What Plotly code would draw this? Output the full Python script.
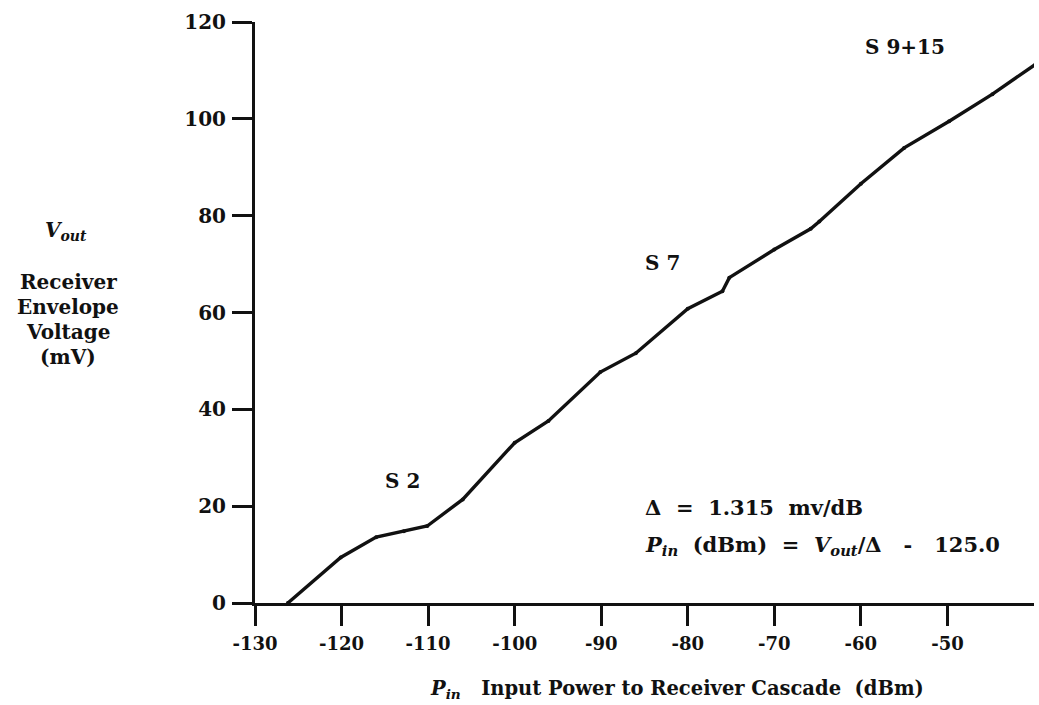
import plotly.graph_objects as go

# Data
p_in_dbm = [-126.2, -120.1, -116.0, -112.8, -110.1, -106.0, -100.0, -96.1, -90.1,
            -86.0, -80.0, -76.0, -75.2, -70.0, -65.8, -64.8, -60.0, -55.0,
            -49.8, -44.8, -39.8]
v_out_mv = [0.0, 9.4, 13.6, 14.8, 15.9, 21.4, 33.1, 37.6, 47.7,
            51.6, 60.8, 64.4, 67.2, 73.0, 77.3, 78.8, 86.6, 94.0,
            99.5, 105.1, 111.3]
x_ticks = [-130, -120, -110, -100, -90, -80, -70, -60, -50]
y_ticks = [0, 20, 40, 60, 80, 100, 120]
region_labels = ["S 2", "S 7", "S 9+15"]

W, H = 1039, 705
L, R, T, B = 255, 5, 22, 102
PW, PH = W - L - R, H - T - B

def px(x):
    return (x - L) / PW

def py(y):
    return (H - B - y) / PH

FONT = "DejaVu Serif"
BLACK = "#111111"

fig = go.Figure()
fig.add_trace(go.Scatter(
    x=p_in_dbm, y=v_out_mv, mode="lines+markers",
    line=dict(color=BLACK, width=3.4),
    marker=dict(size=4, color=BLACK),
    showlegend=False, hoverinfo="skip",
))

axis_common = dict(
    showline=True, linecolor=BLACK, linewidth=3,
    ticks="outside", ticklen=20, tickwidth=2.5, tickcolor=BLACK,
    showgrid=False, zeroline=False,
)

fig.update_xaxes(range=[-130, -40], tickvals=x_ticks,
                 ticktext=[str(v) for v in x_ticks],
                 tickfont=dict(family=FONT, size=18, color=BLACK, weight="bold"),
                 ticklabelstandoff=2, **axis_common)
fig.update_yaxes(range=[0, 120], tickvals=y_ticks,
                 ticktext=[str(v) for v in y_ticks],
                 tickfont=dict(family=FONT, size=20, color=BLACK, weight="bold"),
                 ticklabelstandoff=2, **axis_common)

ann = []
def text(x, y, s, anchor="center", size=19):
    ann.append(dict(xref="paper", yref="paper", x=px(x), y=py(y), text=s,
                    showarrow=False, xanchor=anchor, yanchor="middle",
                    font=dict(family=FONT, size=size, color=BLACK, weight="bold")))

# y-axis title block
text(66, 231, "<i>V</i><sub><i>out</i></sub>", size=20)
text(68, 282, "Receiver", size=20)
text(68, 307, "Envelope", size=20)
text(68, 332, "Voltage", size=20)
text(68, 357, "(mV)", size=20)

# x-axis title
text(677, 689, "<i>P</i><sub><i>in</i></sub>   Input Power to Receiver Cascade  (dBm)", size=19.5)

# region labels
text(402, 481, region_labels[0], size=20)
text(662, 263, region_labels[1], size=20)
text(905, 47, region_labels[2], size=20)

# equations
text(643, 507, "Δ  =  1.315  mv/dB", anchor="left", size=21)
text(643, 545, "<i>P</i><sub><i>in</i></sub>  (dBm)  =  <i>V</i><sub><i>out</i></sub>/Δ   -   125.0",
     anchor="left", size=21)

fig.update_layout(
    width=W, height=H,
    margin=dict(l=L, r=R, t=T, b=B, pad=0),
    paper_bgcolor="white", plot_bgcolor="white",
    annotations=ann,
)

fig.write_html("out.html")
